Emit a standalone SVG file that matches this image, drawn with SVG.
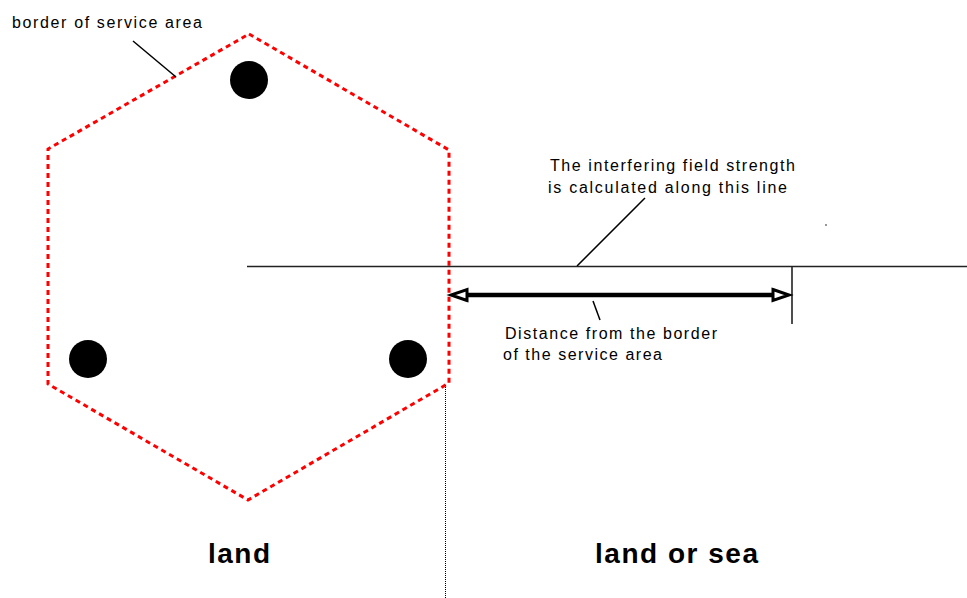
<svg xmlns="http://www.w3.org/2000/svg" width="967" height="598" viewBox="0 0 967 598">
  <style>
    .lbl { font-family: "Liberation Sans", Arial, sans-serif; font-size: 16px; fill: #000; }
    .big { font-family: "Liberation Sans", Arial, sans-serif; font-size: 28px; font-weight: bold; fill: #000; }
    .lead { stroke: #000; stroke-width: 1.5; fill: none; }
    .thin { stroke: #222; stroke-width: 1.6; fill: none; }
    .border { stroke: #ff0000; stroke-width: 3; stroke-dasharray: 5 4; fill: none; }
    .site { fill: #000; }
  </style>
  <defs>
    <marker id="hollow" markerUnits="userSpaceOnUse" markerWidth="24" markerHeight="18" viewBox="-3 -9 24 18" refX="0" refY="0" orient="auto-start-reverse">
      <path d="M0,-5.5 L16,0 L0,5.5 Z" fill="#fff" stroke="#000" stroke-width="3" stroke-linejoin="miter"/>
    </marker>
  </defs>
  <rect width="967" height="598" fill="#fff"/>

  <g id="service-area">
    <polygon class="border" points="249,34 449,150 449,383 248,500 48,384 48,149"/>
  </g>

  <g id="site-top"><circle class="site" cx="249" cy="80" r="19"/></g>
  <g id="site-left"><circle class="site" cx="88" cy="359" r="19"/></g>
  <g id="site-right"><circle class="site" cx="408" cy="359" r="19"/></g>

  <g id="connectors">
    <line class="thin" x1="247" y1="266.5" x2="967" y2="266.5"/>
    <line class="thin" x1="792" y1="266" x2="792" y2="324"/>
    <line x1="467" y1="295" x2="773" y2="295" stroke="#000" stroke-width="4.5" marker-start="url(#hollow)" marker-end="url(#hollow)"/>
    <line x1="445.5" y1="385" x2="445.5" y2="598" stroke="#000" stroke-width="1" stroke-dasharray="1 1"/>
    <line class="lead" x1="133" y1="41" x2="176" y2="77"/>
    <line class="lead" x1="645" y1="198" x2="577" y2="266"/>
    <line class="lead" x1="593" y1="301" x2="600" y2="320"/>
    <circle cx="826" cy="225" r="0.9" fill="#666"/>
  </g>

  <g id="label-border">
    <text class="lbl" x="12" y="28" textLength="190" lengthAdjust="spacing">border of service area</text>
  </g>
  <g id="label-line">
    <text class="lbl" x="550" y="171" textLength="245" lengthAdjust="spacing">The interfering field strength</text>
    <text class="lbl" x="548" y="193" textLength="239" lengthAdjust="spacing">is calculated along this line</text>
  </g>
  <g id="label-distance">
    <text class="lbl" x="505" y="339" textLength="212" lengthAdjust="spacing">Distance from the border</text>
    <text class="lbl" x="503" y="360" textLength="159" lengthAdjust="spacing">of the service area</text>
  </g>
  <g id="label-land">
    <text class="big" x="208" y="563" textLength="62" lengthAdjust="spacing">land</text>
  </g>
  <g id="label-landsea">
    <text class="big" x="595" y="563" textLength="163" lengthAdjust="spacing">land or sea</text>
  </g>
</svg>
